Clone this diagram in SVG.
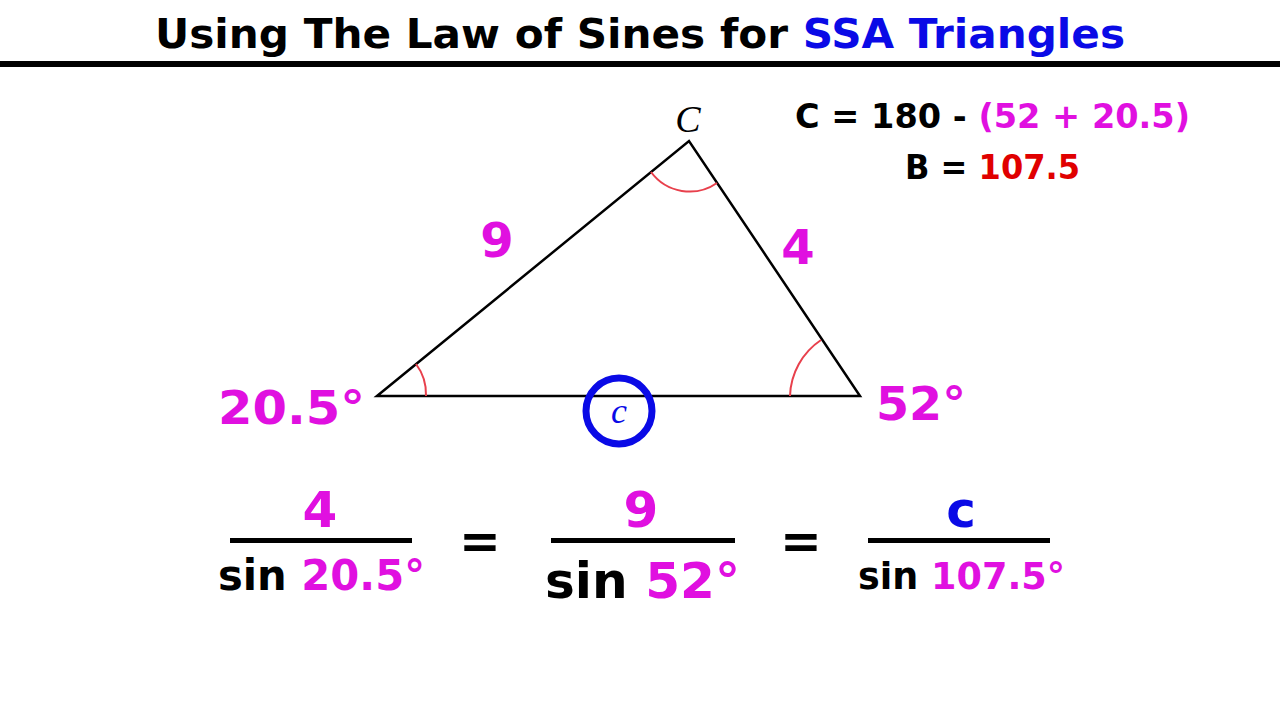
<svg xmlns="http://www.w3.org/2000/svg" width="1280" height="720" viewBox="0 0 1280 720">
<style>
text{font-family:"DejaVu Sans","Liberation Sans",sans-serif;font-weight:bold}
.m{fill:#e010e0}.b{fill:#0a0ae6}.k{fill:#000}.r{fill:#e00000}
.arc{fill:none;stroke:#e8404c;stroke-width:2}
.it{font-family:"Liberation Serif",serif;font-style:italic;font-weight:normal}
</style>
<rect width="1280" height="720" fill="#fff"/>
<text x="155" y="48" font-size="40" textLength="970" lengthAdjust="spacingAndGlyphs" class="k">Using The Law of Sines for <tspan class="b">SSA Triangles</tspan></text>
<rect x="0" y="61" width="1280" height="6" fill="#000"/>
<g id="triangle">
<polygon points="377,396 689,141 860,396" fill="none" stroke="#000" stroke-width="2.5"/>
<path class="arc" d="M651,172 A48,48 0 0 0 717,183"/>
<path class="arc" d="M416,364 A50,50 0 0 1 426,396"/>
<path class="arc" d="M821,340 A70,70 0 0 0 790,396"/>
</g>
<text x="688" y="132" font-size="38" class="it k" text-anchor="middle">C</text>
<text x="497" y="257" font-size="48" class="m" text-anchor="middle">9</text>
<text x="798" y="264" font-size="48" class="m" text-anchor="middle">4</text>
<text x="218" y="424" font-size="46" textLength="147" lengthAdjust="spacingAndGlyphs" class="m">20.5°</text>
<text x="876" y="420" font-size="46" textLength="90" lengthAdjust="spacingAndGlyphs" class="m">52°</text>
<g id="circle-c">
<circle cx="619" cy="411" r="33" fill="none" stroke="#0a0ae6" stroke-width="7"/>
<text x="619" y="423" font-size="36" class="it b" text-anchor="middle">c</text>
</g>
<text x="795" y="128" font-size="33" textLength="395" lengthAdjust="spacingAndGlyphs" class="k">C = 180 - <tspan class="m">(52 + 20.5)</tspan></text>
<text x="905" y="179" font-size="33" textLength="175" lengthAdjust="spacingAndGlyphs" class="k">B = <tspan class="r">107.5</tspan></text>
<g id="equation">
<rect x="230" y="538" width="182" height="5" fill="#000"/>
<rect x="551" y="538" width="184" height="5" fill="#000"/>
<rect x="868" y="538" width="182" height="5" fill="#000"/>
<text x="320" y="527" font-size="50" class="m" text-anchor="middle">4</text>
<text x="641" y="527" font-size="50" class="m" text-anchor="middle">9</text>
<text x="961" y="527" font-size="50" class="b" text-anchor="middle">c</text>
<text x="480" y="558" font-size="50" class="k" text-anchor="middle">=</text>
<text x="801" y="558" font-size="50" class="k" text-anchor="middle">=</text>
<text x="218" y="590" font-size="42" textLength="207" lengthAdjust="spacingAndGlyphs" class="k">sin <tspan class="m">20.5°</tspan></text>
<text x="545" y="598" font-size="50" textLength="195" lengthAdjust="spacingAndGlyphs" class="k">sin <tspan class="m">52°</tspan></text>
<text x="858" y="589" font-size="38" textLength="207" lengthAdjust="spacingAndGlyphs" class="k">sin <tspan class="m">107.5°</tspan></text>
</g>
</svg>
